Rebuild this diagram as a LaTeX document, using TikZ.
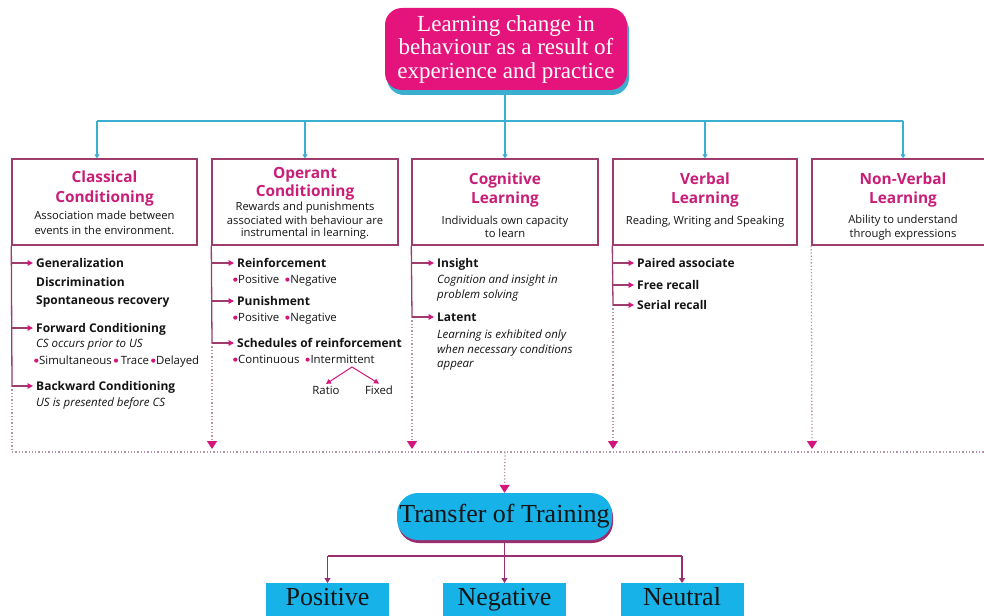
\documentclass[tikz,border=0pt]{standalone}
\usepackage{fontspec}
\setmainfont{Liberation Serif}
\newfontfamily\osans{Open Sans}
\usetikzlibrary{arrows.meta}
\definecolor{magfill}{RGB}{229,20,125}
\definecolor{ttlc}{RGB}{200,30,120}
\definecolor{boxc}{RGB}{158,60,108}
\definecolor{cyfill}{RGB}{22,178,232}
\definecolor{cyline}{RGB}{58,175,207}
\definecolor{lowc}{RGB}{154,46,110}
\definecolor{arrmag}{RGB}{212,22,124}
\definecolor{dotc}{RGB}{180,150,168}
\definecolor{txtc}{RGB}{20,20,20}
\newcommand\bul{\raisebox{1.8pt}{\tikz\fill[arrmag] (0,0) circle[radius=2.1pt];}\hspace{0.8pt}}
\begin{document}
\begin{tikzpicture}[x=1pt,y=-1pt,
  colbox/.style={draw=boxc, line width=1.4pt, minimum width=#1, minimum height=86pt, inner sep=0pt},
  ttl/.style={font=\osans\bfseries\fontsize{15.4}{17}\selectfont, text=ttlc, anchor=base, inner sep=0pt},
  desc/.style={font=\osans\fontsize{11.2}{12}\selectfont, text=txtc, anchor=base, inner sep=0pt},
  item/.style={font=\osans\bfseries\fontsize{12}{13}\selectfont, text=txtc, anchor=base west, inner sep=0pt},
  itl/.style={font=\osans\itshape\fontsize{11.5}{12}\selectfont, text=txtc, anchor=base west, inner sep=0pt},
  sub/.style={font=\osans\fontsize{11.4}{12}\selectfont, text=txtc, anchor=base west, inner sep=0pt},
  cyarrow/.style={draw=cyline, line width=1.2pt, -{Triangle[width=5pt,length=4pt,color=cyline]}},
  cyl/.style={draw=cyline, line width=1.2pt},
  vline/.style={draw=boxc, line width=1.3pt},
  dotline/.style={draw=dotc, line width=1.3pt, dotted},
  dotarrow/.style={draw=dotc, line width=1.3pt, dotted, -{Triangle[width=10pt,length=8pt,color=arrmag]}},
  stub/.style={draw=boxc, line width=1.2pt, -{Triangle[width=5.5pt,length=5.5pt,color=arrmag]}, shorten >=3pt},
  thin/.style={draw=arrmag, line width=1pt, -{Triangle[width=5pt,length=5pt,color=arrmag]}},
  lowl/.style={draw=lowc, line width=1.3pt},
  lowarrow/.style={draw=lowc, line width=1.3pt, -{Triangle[width=6pt,length=5pt,color=lowc]}},
  btm/.style={fill=cyfill, minimum width=123pt, anchor=north, inner ysep=3pt, text height=19pt, text depth=25pt, font=\fontsize{26}{28}\selectfont, text=txtc},
]
\clip (0,0) rectangle (984,615);
\fill[white] (0,0) rectangle (984,615);

% top box
\node[fill=cyline, rounded corners=17pt, minimum width=242pt, minimum height=82pt] (topsh) at (508,54) {};
\node[fill=magfill, rounded corners=17pt, minimum width=242pt, minimum height=82pt, text=white, align=center,
  font=\fontsize{23}{23.5}\selectfont, inner sep=0pt] (top) at (506,49)
  {Learning change in\\behaviour as a result of\\experience and practice};

% hub coordinates
\coordinate (h1) at (97,121);
\coordinate (h2) at (305,121);
\coordinate (h3) at (505,121);
\coordinate (h4) at (705,121);
\coordinate (h5) at (903,121);

% column boxes
\node[colbox=185pt] (cc) at (104.5,202) {};
\node[colbox=186pt] (oc) at (305,202) {};
\node[colbox=186pt] (cg) at (505,202) {};
\node[colbox=184pt] (vb) at (705,202) {};
\node[colbox=184pt] (nv) at (904,202) {};

\draw[cyl] (h3 |- topsh.south) -- (h3);
\draw[cyl] (h1) -- (h5);
\draw[cyarrow] (h1) -- (h1 |- cc.north);
\draw[cyarrow] (h2) -- (h2 |- oc.north);
\draw[cyarrow] (h3) -- (h3 |- cg.north);
\draw[cyarrow] (h4) -- (h4 |- vb.north);
\draw[cyarrow] (h5) -- (h5 |- nv.north);

% titles and descriptions
\node[ttl] (t1a) at (104.5,182.5) {Classical};
\node[ttl] (t1b) at (104.5,202.5) {Conditioning};
\node[desc] (d1a) at (104.5,219.5) {Association made between};
\node[desc] (d1b) at (104.5,234.5) {events in the environment.};

\node[ttl] (t2a) at (305,178.5) {Operant};
\node[ttl] (t2b) at (305,196.5) {Conditioning};
\node[desc] (d2a) at (305,210.5) {Rewards and punishments};
\node[desc] (d2b) at (305,224) {associated with behaviour are};
\node[desc] (d2c) at (305,236.5) {instrumental in learning.};

\node[ttl] (t3a) at (505,184.5) {Cognitive};
\node[ttl] (t3b) at (505,203.5) {Learning};
\node[desc] (d3a) at (505,224.5) {Individuals own capacity};
\node[desc] (d3b) at (505,237.5) {to learn};

\node[ttl] (t4a) at (705,184.5) {Verbal};
\node[ttl] (t4b) at (705,203.5) {Learning};
\node[desc] (d4a) at (705,224.5) {Reading, Writing and Speaking};

\node[ttl] (t5a) at (903,184.5) {Non-Verbal};
\node[ttl] (t5b) at (903,203.5) {Learning};
\node[desc] (d5a) at (903,223.5) {Ability to understand};
\node[desc] (d5b) at (903,237.5) {through expressions};

% column 1 items
\node[item] (c1a) at (36,267.5) {Generalization};
\node[item] (c1b) at (36,286.5) {Discrimination};
\node[item] (c1c) at (36,304.5) {Spontaneous recovery};
\node[item] (c1d) at (36,332.5) {Forward Conditioning};
\node[itl] (c1e) at (36,347.5) {CS occurs prior to US};
\node[sub] (c1f) at (34,364.5) {\bul Simultaneous\hspace{2pt}\bul\,Trace\hspace{2pt}\bul Delayed};
\node[item] (c1g) at (36,390.5) {Backward Conditioning};
\node[itl] (c1h) at (36,406.5) {US is presented before CS};
\coordinate (a11) at (12,263);
\coordinate (a12) at (12,328);
\coordinate (a13) at (12,386);
\coordinate (e1) at (12,452);
\draw[vline] (cc.south west) -- (a13);
\draw[dotline] (a13) -- (e1);
\draw[stub] (a11) -- (a11 -| c1a.west);
\draw[stub] (a12) -- (a12 -| c1d.west);
\draw[stub] (a13) -- (a13 -| c1g.west);

% column 2 items
\node[item] (c2a) at (237,267.5) {Reinforcement};
\node[sub] (c2b) at (233,283.5) {\bul Positive\hspace{6pt}\bul Negative};
\node[item] (c2c) at (237,305.5) {Punishment};
\node[sub] (c2d) at (233,321.5) {\bul Positive\hspace{6pt}\bul Negative};
\node[item] (c2e) at (237,347.5) {Schedules of reinforcement};
\node[sub] (c2f) at (233,363.5) {\bul Continuous\hspace{6pt}\bul Intermittent};
\node[sub, anchor=base] (ratio) at (326,394.5) {Ratio};
\node[sub, anchor=base] (fixed) at (379,394.5) {Fixed};
\coordinate (split) at (352,367);
\draw[thin] (split) -- ([yshift=2pt]ratio.north);
\draw[thin] (split) -- ([yshift=2pt]fixed.north);
\coordinate (a21) at (212,263);
\coordinate (a22) at (212,301);
\coordinate (a23) at (212,343);
\coordinate (e2) at (212,449);
\draw[vline] (oc.south west) -- (a23);
\draw[dotarrow] (a23) -- (e2);
\draw[stub] (a21) -- (a21 -| c2a.west);
\draw[stub] (a22) -- (a22 -| c2c.west);
\draw[stub] (a23) -- (a23 -| c2e.west);

% column 3 items
\node[item] (c3a) at (437,267.5) {Insight};
\node[itl] (c3b) at (437,283.5) {Cognition and insight in};
\node[itl] (c3c) at (437,298.5) {problem solving};
\node[item] (c3d) at (437,321.5) {Latent};
\node[itl] (c3e) at (437,338.5) {Learning is exhibited only};
\node[itl] (c3f) at (437,353.5) {when necessary conditions};
\node[itl] (c3g) at (437,367.5) {appear};
\coordinate (a31) at (412,263);
\coordinate (a32) at (412,317);
\coordinate (e3) at (412,449);
\draw[vline] (cg.south west) -- (a32);
\draw[dotarrow] (a32) -- (e3);
\draw[stub] (a31) -- (a31 -| c3a.west);
\draw[stub] (a32) -- (a32 -| c3d.west);

% column 4 items
\node[item] (c4a) at (637,267.5) {Paired associate};
\node[item] (c4b) at (637,289.5) {Free recall};
\node[item] (c4c) at (637,309.5) {Serial recall};
\coordinate (a41) at (613,263);
\coordinate (a42) at (613,285);
\coordinate (a43) at (613,305);
\coordinate (e4) at (613,449);
\draw[vline] (vb.south west) -- (a43);
\draw[dotarrow] (a43) -- (e4);
\draw[stub] (a41) -- (a41 -| c4a.west);
\draw[stub] (a42) -- (a42 -| c4b.west);
\draw[stub] (a43) -- (a43 -| c4c.west);

% column 5
\coordinate (e5) at (812,449);
\draw[dotarrow] (nv.south west) -- (e5);

% dotted collector
\coordinate (eR) at (984,452);
\coordinate (em) at (505,452);
\draw[dotline] (e1) -- (eR);

% transfer box
\node[fill=lowc, rounded corners=21pt, minimum width=215pt, minimum height=47pt] (trsh) at (505.5,519.5) {};
\node[fill=cyfill, rounded corners=21pt, minimum width=215pt, minimum height=47pt, inner sep=0pt,
  font=\fontsize{26}{28}\selectfont, text=txtc] (trans) at (504.5,516.5) {Transfer of Training};
\draw[dotarrow] (em) -- (trans.north);

% bottom boxes
\node[btm] (pos) at (327.5,583) {Positive};
\node[btm] (neg) at (504.5,583) {Negative};
\node[btm] (neu) at (682,583) {Neutral};
\coordinate (j1) at (327.5,556);
\coordinate (j2) at (504.5,556);
\coordinate (j3) at (682,556);
\draw[lowl] (j2 |- trsh.south) -- (j2);
\draw[lowl] (j1) -- (j3);
\draw[lowarrow] (j1) -- (pos.north);
\draw[lowarrow] (j2) -- (neg.north);
\draw[lowarrow] (j3) -- (neu.north);
\end{tikzpicture}
\end{document}
